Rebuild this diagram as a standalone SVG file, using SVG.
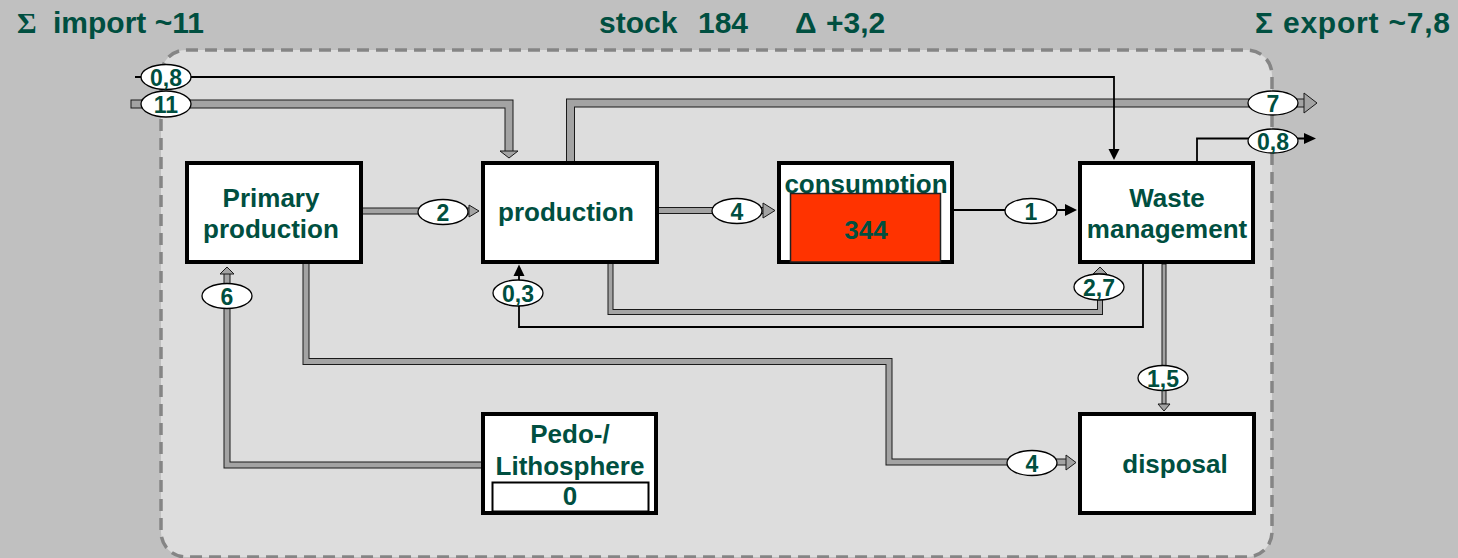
<svg xmlns="http://www.w3.org/2000/svg" width="1458" height="558" viewBox="0 0 1458 558">
<style>
.hdr{font-family:"Liberation Sans",Arial,sans-serif;font-weight:bold;font-size:30px;fill:#004F40}
.nt{font-family:"Liberation Sans",Arial,sans-serif;font-weight:bold;font-size:26px;fill:#004F40;text-anchor:middle}
.box{fill:#fff;stroke:#000;stroke-width:4}
.po{fill:none;stroke:#1a1a1a;stroke-linejoin:miter;stroke-linecap:square}
.pi{fill:none;stroke:#A3A3A3;stroke-linejoin:miter;stroke-linecap:square}
.ph{fill:#A3A3A3;stroke:#1a1a1a;stroke-width:1;stroke-linejoin:miter}
.ln{fill:none;stroke:#000;stroke-width:1.8}
.ah{fill:#000;stroke:none}
.le{fill:#fff;stroke:#000;stroke-width:1.3}
.lt{font-family:"Liberation Sans",Arial,sans-serif;font-weight:bold;font-size:23px;fill:#004F40;text-anchor:middle}
</style>
<rect x="0" y="0" width="1458" height="558" fill="#C0C0C0"/>
<rect id="boundary" x="161" y="50" width="1111" height="507" rx="25" ry="25" fill="#DDDDDD" stroke="#858585" stroke-width="3.5" stroke-dasharray="12 7"/>
<g id="header">
<text class="hdr" x="17" y="33"><tspan font-family="'Liberation Serif',serif">Σ</tspan><tspan x="53">import ~11</tspan></text>
<text class="hdr" x="599" y="33">stock<tspan x="698">184</tspan></text>
<text class="hdr" x="795" y="33">Δ<tspan x="826">+3,2</tspan></text>
<text class="hdr" x="1450" y="33" text-anchor="end" textLength="195">Σ export ~7,8</text>
</g>
<g id="connectors">
<path class="po" stroke-width="9" d="M135,104 H509 V150"/>
<path class="pi" stroke-width="7" d="M135,104 H509 V150"/>
<polygon class="ph" points="500,151 518,151 509,158"/>
<path class="po" stroke-width="9" d="M570.5,162 V103 H1303"/>
<path class="pi" stroke-width="7" d="M570.5,162 V103 H1303"/>
<polygon class="ph" points="1304,93 1317,103 1304,113"/>
<path class="po" stroke-width="7" d="M363,211 H468"/>
<path class="pi" stroke-width="5" d="M363,211 H468"/>
<polygon class="ph" points="469,205 479,211 469,217"/>
<path class="po" stroke-width="7" d="M659,210.5 H761"/>
<path class="pi" stroke-width="5" d="M659,210.5 H761"/>
<polygon class="ph" points="763,203 775,210.5 763,218"/>
<path class="po" stroke-width="7" d="M481,465 H227 V276"/>
<path class="pi" stroke-width="5" d="M481,465 H227 V276"/>
<polygon class="ph" points="220,274 227,267 234,274"/>
<path class="po" stroke-width="7" d="M306,266 V361.5 H889 V462 H1064"/>
<path class="pi" stroke-width="5" d="M306,266 V361.5 H889 V462 H1064"/>
<polygon class="ph" points="1066,455 1076,462.5 1066,470"/>
<path class="po" stroke-width="6" d="M610.5,266 V312 H1100 V276"/>
<path class="pi" stroke-width="4" d="M610.5,266 V312 H1100 V276"/>
<polygon class="ph" points="1093,274 1100,267 1107,274"/>
<path class="po" stroke-width="5" d="M1164,266 V402"/>
<path class="pi" stroke-width="3" d="M1164,266 V402"/>
<polygon class="ph" points="1158,404 1170,404 1164,411"/>
<path class="ln" d="M1143,264 V327 H519 V275"/>
<polygon class="ah" points="513.5,276 519,264.5 524.5,276"/>
<path class="ln" d="M954,210 H1066"/>
<polygon class="ah" points="1065,204 1077,210 1065,216"/>
<path class="ln" d="M135,77 H1114 V150"/>
<polygon class="ah" points="1108.5,149 1119.5,149 1114,160"/>
<path class="ln" d="M1197,161 V138.5 H1305"/>
<polygon class="ah" points="1304,133 1316,138.5 1304,144"/>
<g id="lbl-imp08"><ellipse class="le" cx="166" cy="77" rx="25" ry="12.5"/><text class="lt" x="166" y="86">0,8</text></g>
<g id="lbl-imp11"><ellipse class="le" cx="166" cy="104" rx="25" ry="13"/><text class="lt" x="166" y="113">11</text></g>
<g id="lbl-exp7"><ellipse class="le" cx="1273" cy="103" rx="25" ry="12"/><text class="lt" x="1273" y="112">7</text></g>
<g id="lbl-exp08"><ellipse class="le" cx="1273" cy="141" rx="25" ry="12"/><text class="lt" x="1273" y="150">0,8</text></g>
<g id="lbl-2"><ellipse class="le" cx="443" cy="212" rx="25" ry="12.5"/><text class="lt" x="443" y="221">2</text></g>
<g id="lbl-4a"><ellipse class="le" cx="737" cy="211" rx="25" ry="12.5"/><text class="lt" x="737" y="220">4</text></g>
<g id="lbl-1"><ellipse class="le" cx="1031" cy="211" rx="26" ry="12.5"/><text class="lt" x="1031" y="220">1</text></g>
<g id="lbl-6"><ellipse class="le" cx="227" cy="296" rx="25" ry="12.5"/><text class="lt" x="227" y="305">6</text></g>
<g id="lbl-03"><ellipse class="le" cx="518" cy="293" rx="25" ry="13"/><text class="lt" x="518" y="302">0,3</text></g>
<g id="lbl-27"><ellipse class="le" cx="1099" cy="287" rx="25" ry="13"/><text class="lt" x="1099" y="296">2,7</text></g>
<g id="lbl-15"><ellipse class="le" cx="1163" cy="378" rx="25" ry="12.5"/><text class="lt" x="1163" y="387">1,5</text></g>
<g id="lbl-4b"><ellipse class="le" cx="1032" cy="463" rx="25" ry="12.5"/><text class="lt" x="1032" y="472">4</text></g>
</g>
<g id="node-primary">
<rect class="box" x="187" y="163" width="174" height="99"/>
<text class="nt" x="271" y="207">Primary</text>
<text class="nt" x="271" y="238">production</text>
</g>
<g id="node-production">
<rect class="box" x="483" y="163" width="174" height="99"/>
<text class="nt" x="566" y="221">production</text>
</g>
<g id="node-consumption">
<rect class="box" x="779" y="163" width="173" height="99"/>
<text class="nt" x="866" y="193">consumption</text>
<rect x="790.5" y="193.5" width="150" height="68.5" fill="#FF3300" stroke="#222" stroke-width="1.5"/>
<text class="nt" x="866" y="239">344</text>
</g>
<g id="node-waste">
<rect class="box" x="1080" y="163" width="173" height="99"/>
<text class="nt" x="1167" y="207">Waste</text>
<text class="nt" x="1167" y="238">management</text>
</g>
<g id="node-disposal">
<rect class="box" x="1080" y="414" width="174" height="99"/>
<text class="nt" x="1175" y="473">disposal</text>
</g>
<g id="node-lithosphere">
<rect class="box" x="483" y="414" width="173" height="99"/>
<text class="nt" x="570" y="443">Pedo-/</text>
<text class="nt" x="570" y="475">Lithosphere</text>
<rect x="492.5" y="482.5" width="156" height="29" fill="#fff" stroke="#000" stroke-width="2"/>
<text class="nt" x="570" y="505" font-size="22">0</text>
</g>
</svg>
